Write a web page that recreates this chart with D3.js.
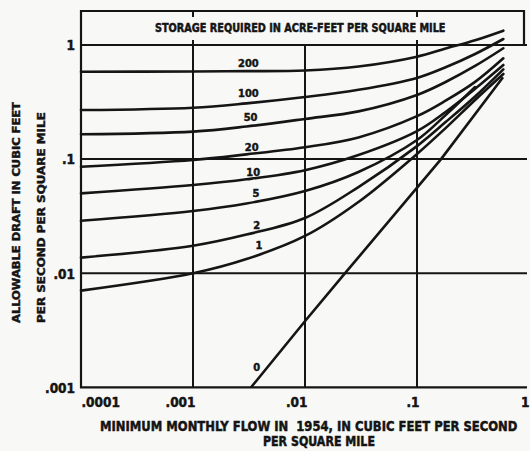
<!DOCTYPE html>
<html><head><meta charset="utf-8">
<script src="https://cdn.jsdelivr.net/npm/d3@7"></script>
<style>
html,body{margin:0;padding:0;background:#f8f8f7;}
svg{display:block;}
text{font-family:"Liberation Sans Narrow","DejaVu Sans Condensed","Arial Narrow",sans-serif;font-weight:bold;fill:#141414;stroke:#141414;stroke-width:0.45px;}
</style></head><body>
<svg id="chart" width="530" height="451"></svg>
<script>
// ---- data ----
const xTicks = [0.0001, 0.001, 0.01, 0.1, 1];
const xTickLabels = [".0001", ".001", ".01", ".1", "1"];
const yTicks = [0.001, 0.01, 0.1, 1];
const yTickLabels = [".001", ".01", ".1", "1"];

// minimum monthly flow (cfs / sq mi) at which the storage curves were read
const flow = [0.0001, 0.001, 0.003, 0.01, 0.03, 0.1, 0.18, 0.33, 0.59];
// allowable draft (cfs / sq mi) for each storage (acre-feet / sq mi)
const draft200 = [0.583, 0.586, 0.59, 0.598, 0.648, 0.79, 0.93, 1.10, 1.335];
const draft100 = [0.269, 0.282, 0.308, 0.350, 0.405, 0.515, 0.638, 0.834, 1.129];
const draft50  = [0.165, 0.174, 0.193, 0.225, 0.262, 0.365, 0.474, 0.655, 0.936];
const draft20  = [0.0858, 0.0982, 0.110, 0.127, 0.155, 0.238, 0.325, 0.475, 0.765];
const draft10  = [0.0501, 0.0593, 0.0665, 0.0800, 0.1086, 0.176, 0.259, 0.413, 0.668];
const draft5   = [0.0288, 0.0351, 0.0408, 0.0525, 0.0771, 0.147, 0.243, 0.428];
const draft2   = [0.0137, 0.0174, 0.0218, 0.0305, 0.0569, 0.130, 0.211, 0.354, 0.612];
const draft1   = [0.00703, 0.00998, 0.0133, 0.0212, 0.0421, 0.1109, 0.187, 0.330, 0.557];
// zero-storage line
const flow0  = [0.0033, 0.0102, 0.0228, 0.164, 0.586];
const draft0 = [0.001, 0.00389, 0.01, 0.1, 0.521];

const storageLabels = ["200", "100", "50", "20", "10", "5", "2", "1", "0"];
const labelFlow  = [0.00312, 0.00312, 0.00327, 0.00334, 0.00345, 0.00365, 0.00371, 0.00388, 0.00371];
const labelDraft = [0.691, 0.382, 0.235, 0.128, 0.0776, 0.0501, 0.0265, 0.01767, 0.0015];

const plotTitle = "STORAGE REQUIRED IN ACRE-FEET PER SQUARE MILE";
const xTitle1 = "MINIMUM MONTHLY FLOW IN  1954, IN CUBIC FEET PER SECOND";
const xTitle2 = "PER SQUARE MILE";
const yTitle1 = "ALLOWABLE DRAFT IN CUBIC FEET";
const yTitle2 = "PER SECOND PER SQUARE MILE";

// ---- drawing ----
const ink = "#151515";
const svg = d3.select("#chart");
const x = d3.scaleLog().domain([1e-4, 1]).range([81, 529]);
const y = d3.scaleLog().domain([1e-3, 1]).range([387.3, 45]);
const pLeft = x(1e-4), pBottom = y(1e-3), pTop = 11, pRight = 524, gridRight = 527;

const series = [
  {name:"200", xs:flow, ys:draft200},
  {name:"100", xs:flow, ys:draft100},
  {name:"50",  xs:flow, ys:draft50},
  {name:"20",  xs:flow, ys:draft20},
  {name:"10",  xs:flow, ys:draft10},
  {name:"5",   xs:flow.slice(0, draft5.length), ys:draft5},
  {name:"2",   xs:flow, ys:draft2},
  {name:"1",   xs:flow, ys:draft1},
];

const g = svg.append("g");

// horizontal grid lines
g.selectAll("line.h").data(yTicks.filter(v => v > 1e-3)).join("line")
  .attr("x1", pLeft).attr("x2", gridRight)
  .attr("y1", d => y(d)).attr("y2", d => y(d))
  .attr("stroke", ink).attr("stroke-width", 2);

// vertical grid lines
const vGrid = xTicks.filter(v => v > 1e-4 && v < 1);
g.selectAll("line.v").data(vGrid).join("line")
  .attr("x1", d => x(d)).attr("x2", d => x(d))
  .attr("y1", d => d === 0.01 ? y(1) : y(1) - 5).attr("y2", pBottom)
  .attr("stroke", ink).attr("stroke-width", 2);
// small top ticks
g.selectAll("line.t").data(vGrid.filter(d => d !== 0.01)).join("line")
  .attr("x1", d => x(d)).attr("x2", d => x(d))
  .attr("y1", pTop).attr("y2", pTop + 6)
  .attr("stroke", ink).attr("stroke-width", 2);

// frame
g.append("path")
  .attr("d", `M${pRight},${y(1)} L${pRight},${pTop} L${pLeft},${pTop} L${pLeft},${pBottom} L${gridRight},${pBottom}`)
  .attr("fill", "none").attr("stroke", ink).attr("stroke-width", 2.2);

// curves
const line = d3.line().x(d => x(d[0])).y(d => y(d[1])).curve(d3.curveCatmullRom.alpha(0.5));
g.selectAll("path.c").data(series).join("path")
  .attr("d", s => line(s.xs.map((v, i) => [v, s.ys[i]])))
  .attr("fill", "none").attr("stroke", ink).attr("stroke-width", 2.6)
  .attr("stroke-linecap", "round");
g.append("path")
  .attr("d", d3.line().x(d => x(d[0])).y(d => y(d[1]))(flow0.map((v, i) => [v, draft0[i]])))
  .attr("fill", "none").attr("stroke", ink).attr("stroke-width", 2.6);

// curve labels
g.selectAll("text.lab").data(storageLabels).join("text")
  .attr("x", (d, i) => x(labelFlow[i])).attr("y", (d, i) => y(labelDraft[i]))
  .attr("dy", "0.36em").attr("text-anchor", "middle")
  .attr("font-size", 11).text(d => d);

// x tick labels
const xAxis = d3.axisBottom(x).tickValues(xTicks).tickSize(0)
  .tickFormat((d, i) => xTickLabels[i]);
const xa = svg.append("g").attr("transform", `translate(0,${pBottom})`).call(xAxis);
xa.select(".domain").remove();
xa.selectAll("text")
  .attr("y", 20).attr("dy", 0)
  .attr("font-size", 13.5).attr("fill", ink)
  .attr("text-anchor", (d, i) => i === 0 ? "start" : "end")
  .attr("x", (d, i) => i === 0 ? 0 : (i === xTicks.length - 1 ? 0 : 2));

// y tick labels
const yAxis = d3.axisLeft(y).tickValues(yTicks).tickSize(0)
  .tickFormat((d, i) => yTickLabels[i]);
const ya = svg.append("g").attr("transform", `translate(${pLeft},0)`).call(yAxis);
ya.select(".domain").remove();
ya.selectAll("text")
  .attr("x", -6).attr("dy", "0.36em")
  .attr("font-size", 13.5).attr("fill", ink).attr("text-anchor", "end");

// titles, squeezed horizontally to the reference width
function fitText(str, tx, ty, rot, size, width, pre) {
  const t = svg.append("text").attr("font-size", size).text(str);
  if (pre) t.style("white-space", "pre");
  const natural = t.node().getComputedTextLength();
  const sx = width / natural;
  t.attr("transform", `translate(${tx},${ty}) rotate(${rot}) scale(${sx},1)`)
   .style("stroke-width", (0.45 / Math.sqrt(sx)) + "px");
  return t;
}
fitText(plotTitle, 155, 32, 0, 11.5, 291);
fitText(xTitle1, 100, 431, 0, 14, 418, true);
fitText(xTitle2, 263, 446, 0, 13.5, 112);
fitText(yTitle1, 20, 323, -90, 11, 221);
fitText(yTitle2, 45, 323, -90, 11, 211);
</script>
</body></html>
